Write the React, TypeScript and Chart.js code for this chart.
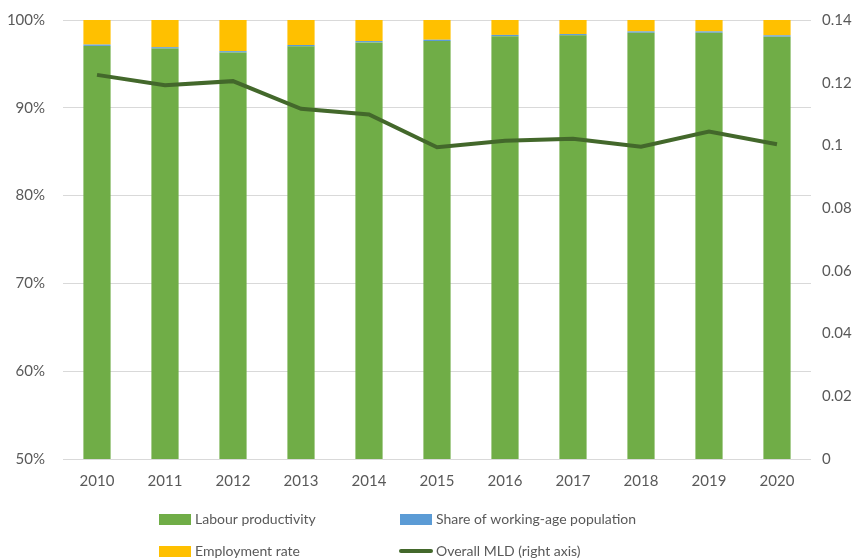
import React, { useEffect, useRef } from "react";
import { Chart, registerables } from "chart.js";

Chart.register(...registerables);

const years = ["2010", "2011", "2012", "2013", "2014", "2015", "2016", "2017", "2018", "2019", "2020"];
const labourProductivity = [97.05, 96.75, 96.3, 97.0, 97.45, 97.6, 98.15, 98.25, 98.55, 98.55, 98.1];
const shareWorkingAge = [0.15, 0.15, 0.15, 0.15, 0.15, 0.15, 0.15, 0.15, 0.15, 0.15, 0.15];
const employmentRate = [2.8, 3.1, 3.55, 2.85, 2.4, 2.25, 1.7, 1.6, 1.3, 1.3, 1.75];
const overallMLD = [0.1225, 0.1192, 0.1205, 0.1117, 0.1099, 0.0994, 0.1015, 0.1021, 0.0996, 0.1044, 0.1004];

const GREEN = "#70AD47";
const BLUE = "#5B9BD5";
const YELLOW = "#FFC000";
const DARK = "#43682B";
const TEXT = "#595959";
const FONT = "Lato";

const legendItems = [
  { label: "Labour productivity", color: GREEN, kind: "box", x: 159, y: 519 },
  { label: "Share of working-age population", color: BLUE, kind: "box", x: 400, y: 519 },
  { label: "Employment rate", color: YELLOW, kind: "box", x: 159, y: 551 },
  { label: "Overall MLD (right axis)", color: DARK, kind: "line", x: 400, y: 551 },
];

const legendPlugin = {
  id: "customLegend",
  afterDraw(chart: any) {
    const ctx = chart.ctx;
    ctx.save();
    ctx.font = `14px ${FONT}`;
    ctx.textBaseline = "middle";
    ctx.textAlign = "left";
    for (const it of legendItems) {
      ctx.fillStyle = it.color;
      if (it.kind === "box") {
        ctx.fillRect(it.x, it.y - 5, 32, 11);
      } else {
        ctx.strokeStyle = it.color;
        ctx.lineWidth = 4;
        ctx.lineCap = "round";
        ctx.beginPath();
        ctx.moveTo(it.x + 1, it.y);
        ctx.lineTo(it.x + 31, it.y);
        ctx.stroke();
      }
      ctx.fillStyle = TEXT;
      ctx.fillText(it.label, it.x + 36, it.y);
    }
    ctx.restore();
  },
};

export default function App() {
  const ref = useRef<HTMLCanvasElement>(null);
  useEffect(() => {
    if (!ref.current) return;
    const chart = new Chart(ref.current, {
      type: "bar",
      data: {
        labels: years,
        datasets: [
          {
            type: "line",
            label: "Overall MLD (right axis)",
            data: overallMLD,
            yAxisID: "y1",
            borderColor: DARK,
            backgroundColor: DARK,
            borderWidth: 4,
            pointRadius: 0,
            tension: 0,
            order: 0,
          } as any,
          { label: "Labour productivity", data: labourProductivity, backgroundColor: GREEN, yAxisID: "y", order: 1 },
          { label: "Share of working-age population", data: shareWorkingAge, backgroundColor: BLUE, yAxisID: "y", order: 1 },
          { label: "Employment rate", data: employmentRate, backgroundColor: YELLOW, yAxisID: "y", order: 1 },
        ],
      },
      options: {
        animation: false,
        responsive: true,
        maintainAspectRatio: false,
        layout: { padding: { top: 20, bottom: 65, left: 0, right: 0 } },
        datasets: { bar: { categoryPercentage: 1, barPercentage: 0.4 } },
        plugins: { legend: { display: false }, tooltip: { enabled: false } },
        scales: {
          x: {
            stacked: true,
            grid: { display: false, drawTicks: false },
            border: { display: false },
            ticks: { color: TEXT, font: { family: FONT, size: 15 }, padding: 13 },
            afterFit(s: any) { s.height = 35; s.paddingLeft = 0; s.paddingRight = 0; },
          },
          y: {
            stacked: true,
            position: "left",
            min: 50,
            max: 100,
            ticks: { stepSize: 10, color: TEXT, font: { family: FONT, size: 15 }, padding: 18, callback: (v: any) => v + "%" },
            grid: { color: "#D9D9D9", lineWidth: 1, drawTicks: false },
            border: { display: false },
            afterFit(s: any) { s.width = 63; s.paddingTop = 0; s.paddingBottom = 0; },
          },
          y1: {
            position: "right",
            min: 0,
            max: 0.14,
            ticks: { stepSize: 0.02, color: TEXT, font: { family: FONT, size: 15 }, padding: 11, callback: (v: any) => String(Number(Number(v).toFixed(2))) },
            grid: { display: false, drawTicks: false },
            border: { display: false },
            afterFit(s: any) { s.width = 47; s.paddingTop = 0; s.paddingBottom = 0; },
          },
        },
      },
      plugins: [legendPlugin],
    });
    return () => chart.destroy();
  }, []);
  return (
    <div style={{ position: "absolute", left: 0, top: 0, width: 858, height: 559, background: "#fff" }}>
      <canvas ref={ref} />
    </div>
  );
}
